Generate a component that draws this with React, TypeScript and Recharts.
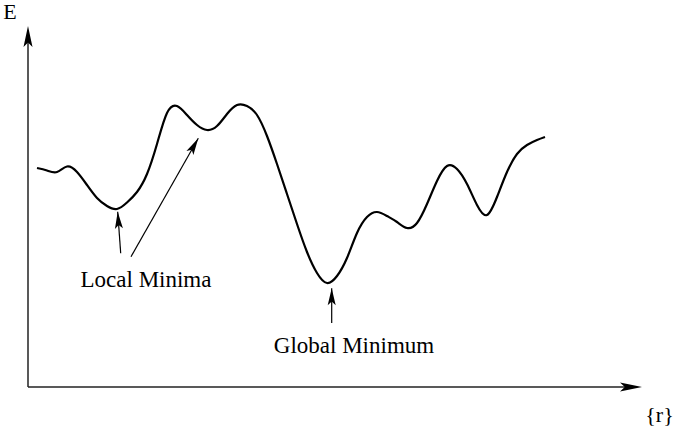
import React from "react";
import {
  LineChart,
  Line,
  XAxis,
  YAxis,
  ReferenceLine,
  ReferenceDot,
} from "recharts";

// energy landscape, every 10 units of r (E upward)
const rValues = [
  9, 19, 29, 39, 49, 59, 69, 79, 89, 99, 109, 119, 129, 139, 149, 159, 169,
  179, 189, 199, 209, 219, 229, 239, 249, 259, 269, 279, 289, 299, 309, 319,
  329, 339, 349, 359, 369, 379, 389, 399, 409, 419, 429, 439, 449, 459, 469,
  479, 489, 499, 509, 517,
];
const eValues = [
  219, 216.5, 215, 220.5, 215, 202, 189, 181, 178, 184.5, 195, 213, 243, 274,
  281, 272, 262, 257, 261, 273, 282, 281, 272, 251, 223, 193, 163, 135, 114,
  104, 111, 129, 154, 170, 175, 171, 165, 159, 164, 183, 206, 221, 218, 203,
  182, 172, 190, 215, 233, 242, 247, 250,
];

// annotation arrows (tail -> tip) and their labels
const arrowTails = [
  { r: 92.7, E: 133.7 },
  { r: 103, E: 130.3 },
  { r: 303.7, E: 64 },
];
const arrowTips = [
  { r: 89.7, E: 175.3 },
  { r: 170.3, E: 248.7 },
  { r: 303.7, E: 98.7 },
];
const labelTexts = ["Local Minima", "Global Minimum"];
const labelAnchors = [
  { r: 118, E: 100 },
  { r: 326, E: 34 },
];

const R_MAX = 614;
const E_MAX = 361;

const curve = rValues.map((r, i) => ({ r, E: eValues[i] }));

const FONT = "'Liberation Serif', 'Times New Roman', serif";

// arrowhead with its tip at (cx, cy), pointing along angle (degrees, screen)
// eslint-disable-next-line @typescript-eslint/no-explicit-any
const Arrowhead = (props: any) => {
  const { cx, cy, angle, len = 18, half = 4, children } = props;
  return (
    <g>
      <path
        d={`M0,0 L${-len},${-half} L${-len * 0.78},0 L${-len},${half} Z`}
        fill="#000"
        transform={`translate(${cx},${cy}) rotate(${angle})`}
      />
      {children}
    </g>
  );
};

// eslint-disable-next-line @typescript-eslint/no-explicit-any
const TextMark = (props: any) => (
  <text
    x={props.cx}
    y={props.cy}
    textAnchor="middle"
    fontFamily={FONT}
    fontSize={23}
    fill="#000"
  >
    {props.text}
  </text>
);

export default function App() {
  return (
    <div style={{ position: "absolute", left: 0, top: 0, width: 680, height: 428, background: "#fff" }}>
      <LineChart
        width={680}
        height={428}
        data={curve}
        margin={{ top: 26, right: 38, bottom: 41, left: 28 }}
      >
        <XAxis type="number" dataKey="r" domain={[0, R_MAX]} hide />
        <YAxis type="number" domain={[0, E_MAX]} hide />

        {/* axes */}
        <ReferenceLine
          segment={[
            { x: 0, y: 0 },
            { x: R_MAX - 10, y: 0 },
          ]}
          stroke="#222"
          strokeWidth={1.5}
          ifOverflow="visible"
        />
        <ReferenceLine
          segment={[
            { x: 0, y: 0 },
            { x: 0, y: E_MAX - 10 },
          ]}
          stroke="#222"
          strokeWidth={1.5}
          ifOverflow="visible"
        />

        <Line
          type="natural"
          dataKey="E"
          stroke="#000"
          strokeWidth={2.2}
          dot={false}
          isAnimationActive={false}
        />

        {/* axis arrowheads and axis names */}
        <ReferenceDot
          x={0}
          y={E_MAX}
          ifOverflow="visible"
          shape={(p: any) => (
            <Arrowhead cx={p.cx} cy={p.cy} angle={-90} len={21} half={4.5}>
              <text x={p.cx - 18} y={p.cy - 7} textAnchor="middle" fontFamily={FONT} fontSize={22}>
                E
              </text>
            </Arrowhead>
          )}
        />
        <ReferenceDot
          x={R_MAX}
          y={0}
          ifOverflow="visible"
          shape={(p: any) => (
            <Arrowhead cx={p.cx} cy={p.cy} angle={0} len={22} half={4.5}>
              <text x={p.cx + 17.5} y={p.cy + 35} textAnchor="middle" fontFamily={FONT} fontSize={22}>
                {"{r}"}
              </text>
            </Arrowhead>
          )}
        />

        {/* annotation arrows */}
        {arrowTails.map((t, i) => (
          <ReferenceLine
            key={`shaft-${i}`}
            segment={[
              { x: t.r, y: t.E },
              { x: arrowTips[i].r, y: arrowTips[i].E },
            ]}
            stroke="#000"
            strokeWidth={1.2}
            ifOverflow="visible"
          />
        ))}
        {arrowTips.map((tip, i) => {
          const angle =
            (Math.atan2(-(tip.E - arrowTails[i].E), tip.r - arrowTails[i].r) * 180) / Math.PI;
          return (
            <ReferenceDot
              key={`head-${i}`}
              x={tip.r}
              y={tip.E}
              ifOverflow="visible"
              shape={(p: any) => <Arrowhead cx={p.cx} cy={p.cy} angle={angle} len={17} half={4} />}
            />
          );
        })}

        {labelAnchors.map((a, i) => (
          <ReferenceDot
            key={`label-${i}`}
            x={a.r}
            y={a.E}
            ifOverflow="visible"
            shape={(p: any) => <TextMark cx={p.cx} cy={p.cy} text={labelTexts[i]} />}
          />
        ))}
      </LineChart>
    </div>
  );
}
